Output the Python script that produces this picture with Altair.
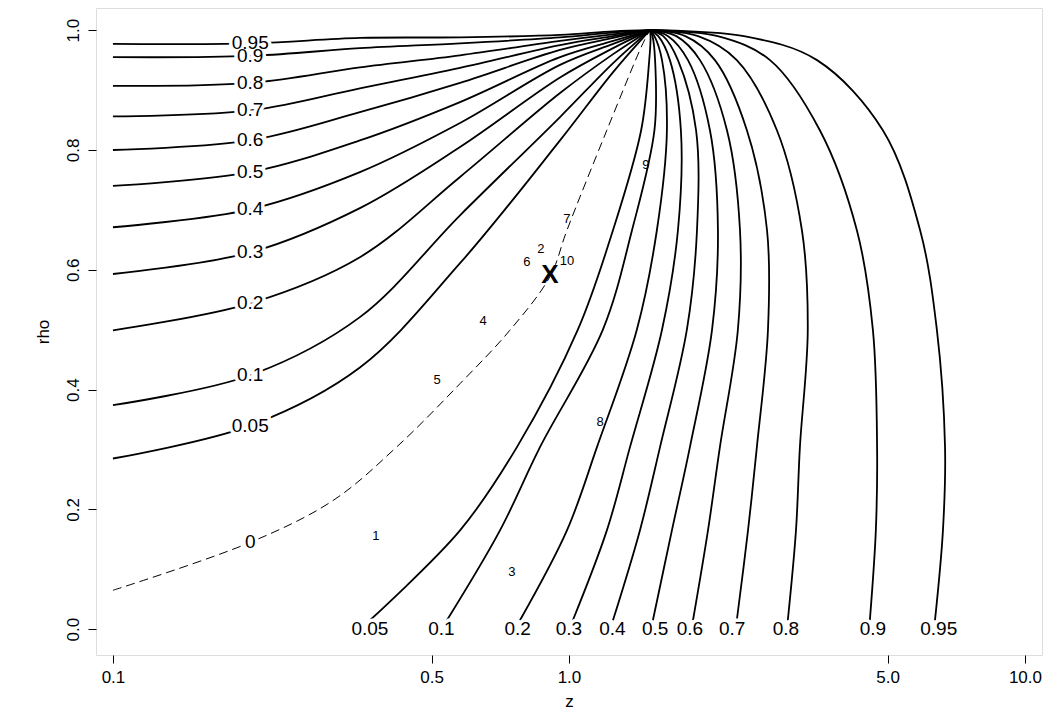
import altair as alt
import pandas as pd

FONT = "Liberation Sans"

# contour levels
levels = ["0.05", "0.1", "0.2", "0.3", "0.4", "0.5", "0.6", "0.7", "0.8", "0.9", "0.95"]

# left family: rho read at fixed z positions
left_z = [0.1, 0.2, 0.348, 0.577, 0.956, 1.25, 1.505]
left_rho = {
    "0.05": [0.285, 0.340, 0.437, 0.611, 0.816, 0.930, 1.0],
    "0.1":  [0.374, 0.424, 0.521, 0.691, 0.855, 0.945, 1.0],
    "0.2":  [0.499, 0.544, 0.621, 0.755, 0.895, 0.960, 1.0],
    "0.3":  [0.593, 0.629, 0.703, 0.805, 0.921, 0.970, 1.0],
    "0.4":  [0.671, 0.701, 0.763, 0.845, 0.942, 0.977, 1.0],
    "0.5":  [0.740, 0.763, 0.816, 0.880, 0.955, 0.982, 1.0],
    "0.6":  [0.800, 0.816, 0.863, 0.912, 0.967, 0.987, 1.0],
    "0.7":  [0.856, 0.866, 0.903, 0.937, 0.975, 0.990, 1.0],
    "0.8":  [0.907, 0.912, 0.938, 0.958, 0.982, 0.993, 1.0],
    "0.9":  [0.955, 0.957, 0.970, 0.978, 0.988, 0.996, 1.0],
    "0.95": [0.977, 0.978, 0.987, 0.988, 0.992, 0.998, 1.0],
}

# right family: z read at fixed rho positions
right_rho = [0.015, 0.165, 0.304, 0.5, 0.666, 0.833, 0.95, 0.99, 1.0]
right_z = {
    "0.05": [0.366, 0.577, 0.769, 1.046, 1.249, 1.440, 1.500, 1.510, 1.505],
    "0.1":  [0.540, 0.706, 0.864, 1.187, 1.375, 1.540, 1.545, 1.525, 1.505],
    "0.2":  [0.781, 0.990, 1.152, 1.409, 1.559, 1.640, 1.600, 1.540, 1.505],
    "0.3":  [1.020, 1.211, 1.361, 1.600, 1.734, 1.760, 1.665, 1.570, 1.505],
    "0.4":  [1.249, 1.431, 1.584, 1.814, 1.909, 1.900, 1.734, 1.610, 1.505],
    "0.5":  [1.528, 1.682, 1.842, 2.060, 2.122, 2.038, 1.824, 1.650, 1.505],
    "0.6":  [1.871, 2.018, 2.143, 2.347, 2.372, 2.221, 1.938, 1.720, 1.505],
    "0.7":  [2.334, 2.470, 2.583, 2.732, 2.719, 2.456, 2.090, 1.800, 1.505],
    "0.8":  [3.020, 3.147, 3.210, 3.340, 3.243, 2.858, 2.334, 1.920, 1.505],
    "0.9":  [4.570, 4.710, 4.740, 4.640, 4.280, 3.550, 2.760, 2.120, 1.505],
    "0.95": [6.350, 6.610, 6.680, 6.410, 5.890, 4.880, 3.500, 2.420, 1.505],
}

# zero contour (dashed)
zero_z = [0.1, 0.2, 0.304, 0.42, 0.577, 0.742, 0.909, 0.99, 1.211, 1.453, 1.505]
zero_rho = [0.065, 0.145, 0.215, 0.305, 0.410, 0.499, 0.589, 0.666, 0.833, 0.978, 1.0]

# inline contour labels
left_label_z = 0.2
right_label_rho = 0.0
right_label_z = [0.366, 0.525, 0.772, 1.0, 1.245, 1.545, 1.842, 2.28, 2.99, 4.64, 6.47]
zero_label = ("0", 0.2, 0.145)

# numbered study points and the pooled estimate
pt_labels = ["1", "2", "3", "4", "5", "6", "7", "8", "9", "10"]
pt_z = [0.377, 0.868, 0.75, 0.648, 0.514, 0.809, 0.99, 1.17, 1.475, 0.99]
pt_rho = [0.155, 0.634, 0.095, 0.514, 0.416, 0.613, 0.684, 0.346, 0.775, 0.614]
est_z, est_rho = 0.909, 0.591

rows = []
for lv in levels:
    for i, (z, r) in enumerate(zip(left_z, left_rho[lv])):
        rows.append({"curve": "L" + lv, "z": z, "rho": r, "o": i})
    for i, (z, r) in enumerate(zip(right_z[lv], right_rho)):
        rows.append({"curve": "R" + lv, "z": z, "rho": r, "o": i})
lines_df = pd.DataFrame(rows)
zero_df = pd.DataFrame({"z": zero_z, "rho": zero_rho, "o": range(len(zero_z))})

lab_rows = []
k = left_z.index(left_label_z)
for lv, rz in zip(levels, right_label_z):
    lab_rows.append({"t": lv, "z": left_label_z, "rho": left_rho[lv][k]})
    lab_rows.append({"t": lv, "z": rz, "rho": right_label_rho})
lab_rows.append({"t": zero_label[0], "z": zero_label[1], "rho": zero_label[2]})
lab_df = pd.DataFrame(lab_rows)
pts_df = pd.DataFrame({"t": pt_labels, "z": pt_z, "rho": pt_rho})
est_df = pd.DataFrame({"t": ["X"], "z": [est_z], "rho": [est_rho]})

x = alt.X("z:Q", title="z",
          scale=alt.Scale(type="log", domain=[0.0918, 10.9], nice=False),
          axis=alt.Axis(values=[0.1, 0.5, 1, 5, 10], format=".1f", grid=False,
                        domain=False, tickSize=8, tickColor="black",
                        labelFontSize=17, titleFontSize=17, labelPadding=6,
                        labelColor="black", titleColor="black", titleFontWeight="normal",
                        labelFont=FONT, titleFont=FONT, titlePadding=8))
y = alt.Y("rho:Q", title="rho",
          scale=alt.Scale(domain=[-0.043, 1.037], nice=False, zero=False),
          axis=alt.Axis(values=[0, 0.2, 0.4, 0.6, 0.8, 1.0], format=".1f", grid=False,
                        domain=False, tickSize=8, tickColor="black", labelAngle=270,
                        labelAlign="center", labelBaseline="bottom",
                        labelFontSize=17, titleFontSize=17, labelPadding=6,
                        labelColor="black", titleColor="black", titleFontWeight="normal",
                        labelFont=FONT, titleFont=FONT, titlePadding=12))

lines = alt.Chart(lines_df).mark_line(
    color="black", strokeWidth=1.8, interpolate="catmull-rom"
).encode(x=x, y=y, detail="curve:N", order="o:Q")
zero = alt.Chart(zero_df).mark_line(
    color="black", strokeWidth=1, strokeDash=[9, 5], interpolate="catmull-rom"
).encode(x=x, y=y, order="o:Q")

halo = alt.Chart(lab_df).mark_text(
    font=FONT, fontSize=19, color="white", stroke="white", strokeWidth=7
).encode(x=x, y=y, text="t:N")
labels = alt.Chart(lab_df).mark_text(
    font=FONT, fontSize=19, color="black"
).encode(x=x, y=y, text="t:N")
pts = alt.Chart(pts_df).mark_text(
    font=FONT, fontSize=13, color="black"
).encode(x=x, y=y, text="t:N")
est = alt.Chart(est_df).mark_text(
    font=FONT, fontSize=26, color="black", fontWeight="bold"
).encode(x=x, y=y, text="t:N")

chart = (
    (lines + zero + halo + labels + pts + est)
    .properties(width=946, height=647,
                padding={"left": 26, "top": 0, "right": 5, "bottom": 5})
    .configure_view(stroke="black", strokeWidth=1.2)
    .configure(background="white")
)

chart.save("out.html", embed_options={"renderer": "svg", "actions": False})
